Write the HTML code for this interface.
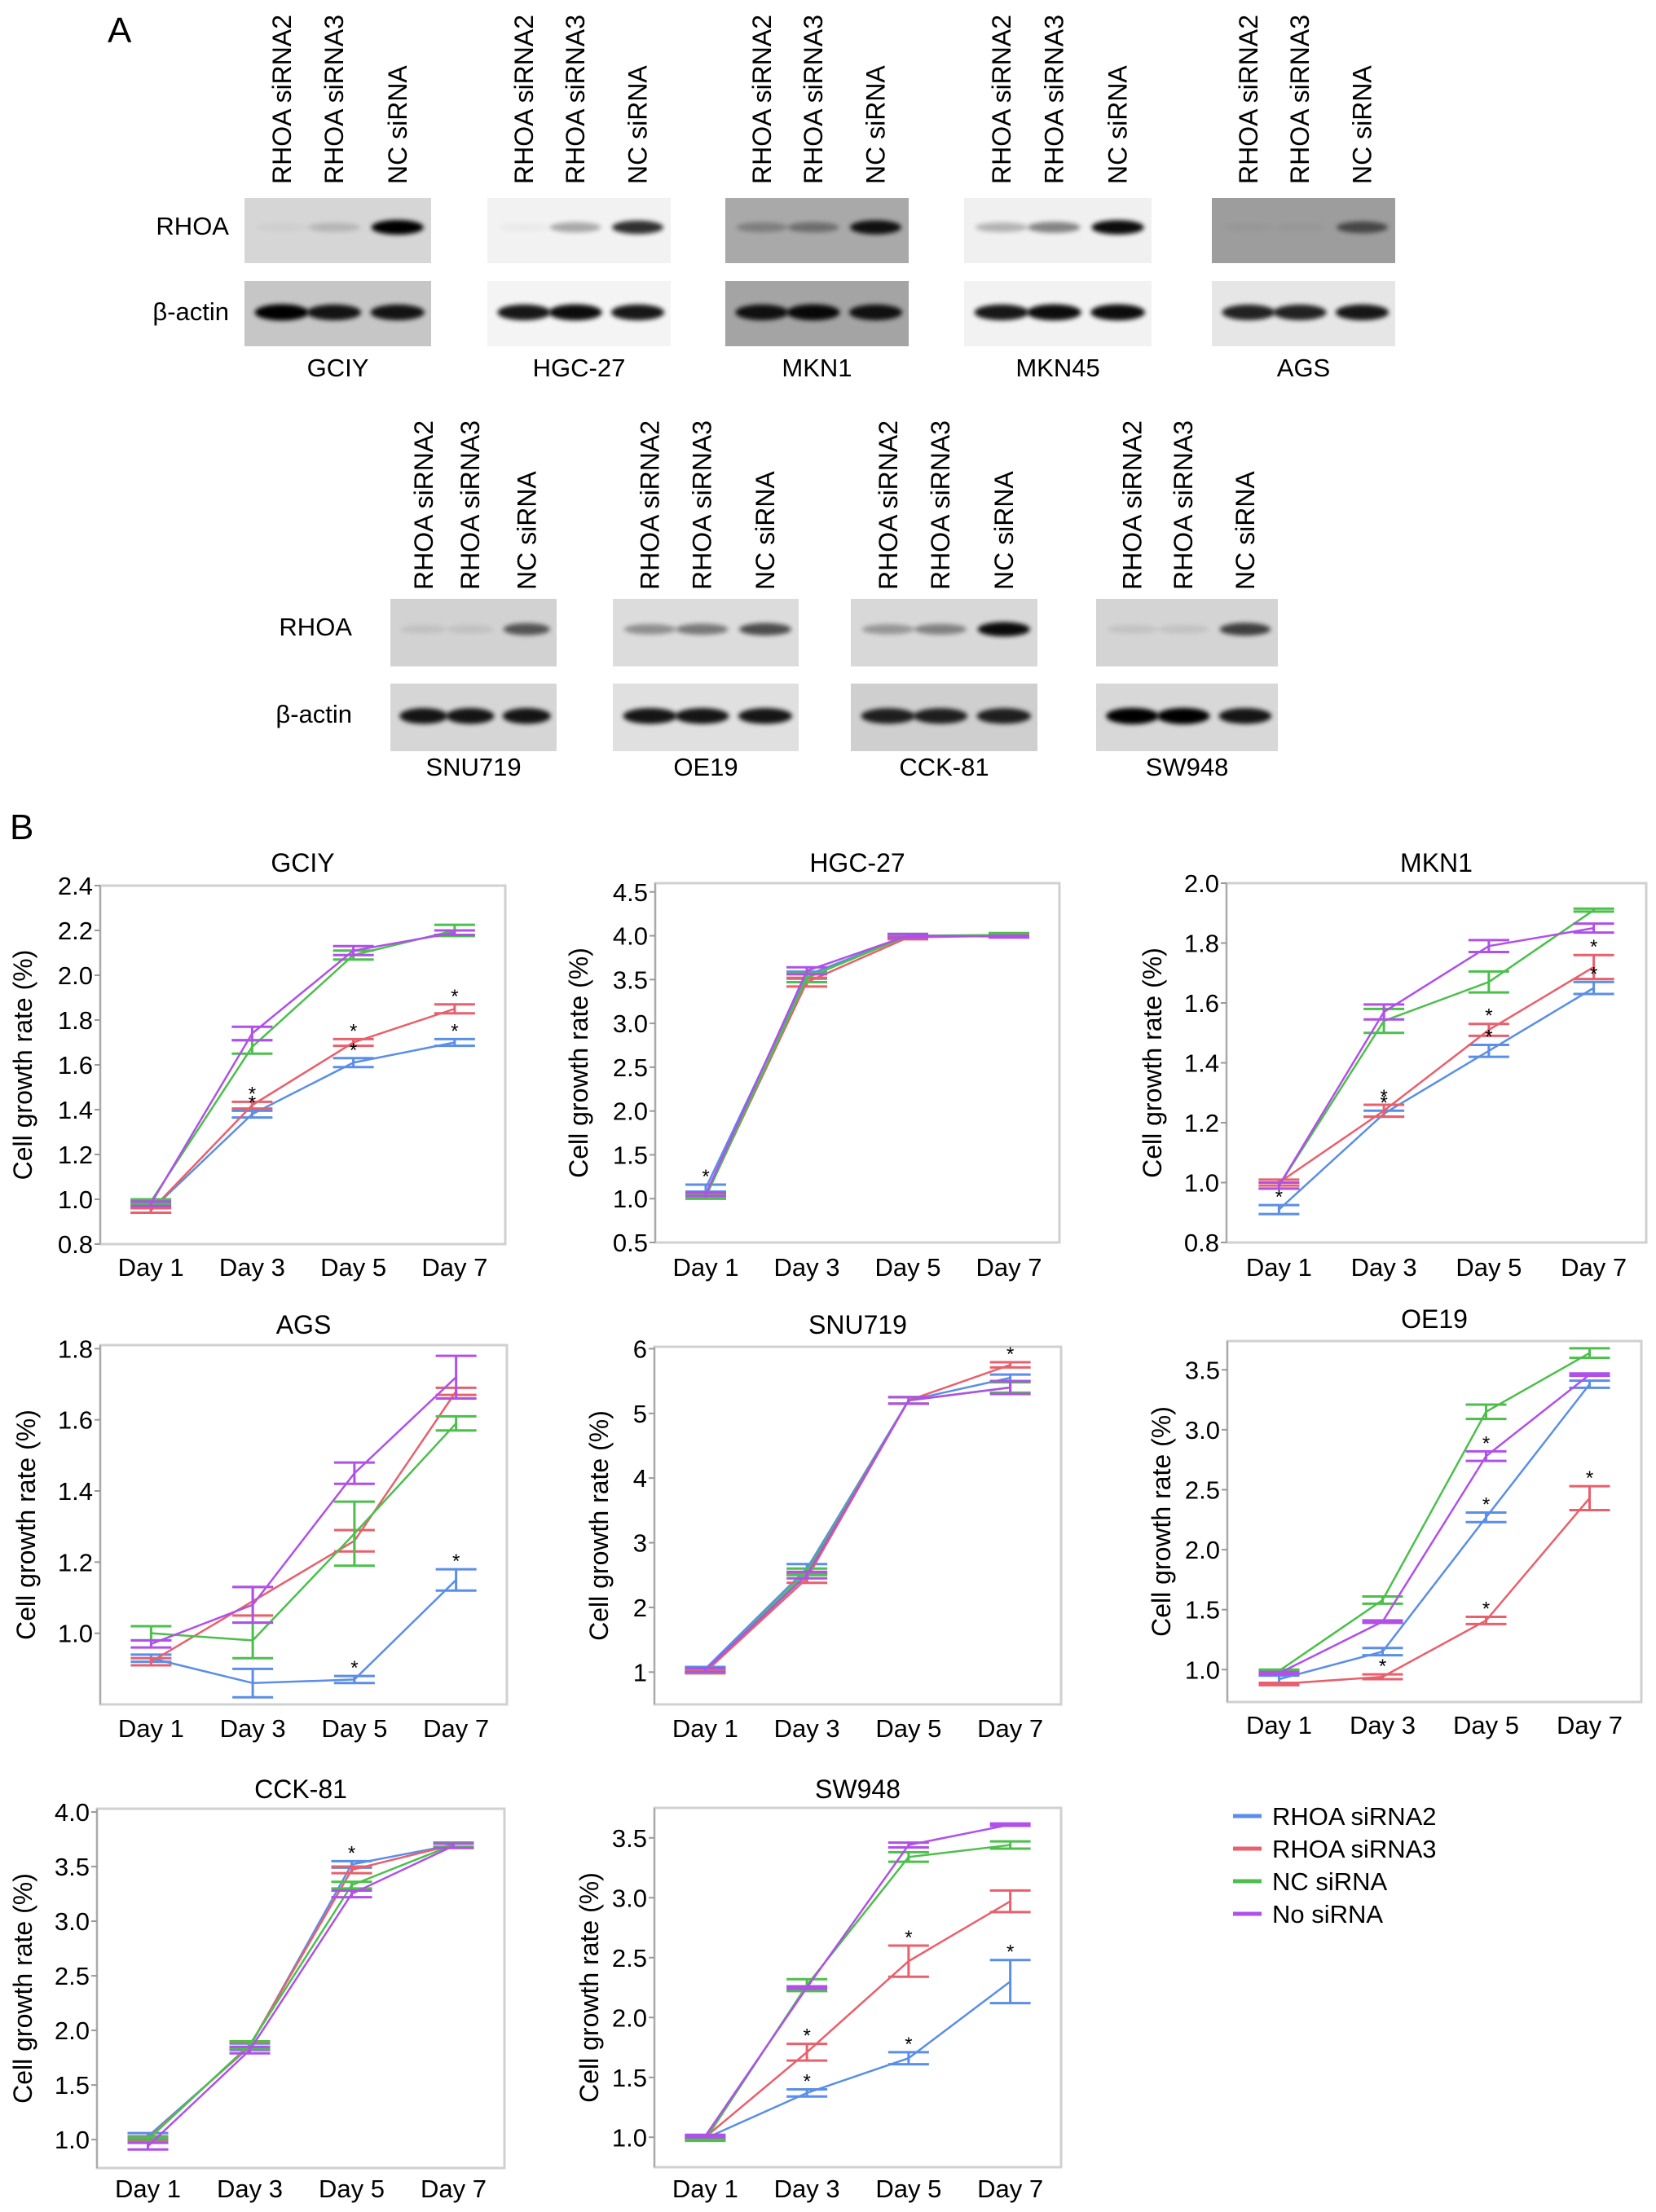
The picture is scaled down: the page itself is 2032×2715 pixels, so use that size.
<!DOCTYPE html>
<html><head><meta charset="utf-8">
<style>
html,body{margin:0;padding:0;background:#fff;}
svg{display:block;font-family:"Liberation Sans",Arial,sans-serif;}
</style></head>
<body>
<svg id="fig" width="2032" height="2715" viewBox="0 0 2032 2715" xmlns="http://www.w3.org/2000/svg">
<defs>
<filter id="blur" x="-50%" y="-100%" width="200%" height="300%"><feGaussianBlur stdDeviation="3"/></filter>
</defs>
<text x="132" y="52" font-size="44">A</text>
<text x="12" y="1030" font-size="44">B</text>
<g id="blots"></g>
<g id="charts"></g>
<g id="legend"></g>
</svg>
<script>
const NS="http://www.w3.org/2000/svg";
function mk(tag,attrs,parent){const e=document.createElementNS(NS,tag);for(const k in attrs)e.setAttribute(k,attrs[k]);if(parent)parent.appendChild(e);return e;}

// ---------- Blots ----------
const blotNames=["GCIY","HGC-27","MKN1","MKN45","AGS","SNU719","OE19","CCK-81","SW948"];
const blotX=[300,598,890,1183,1487,479,752,1044,1345];
const blotW=[229,225,225,230,225,204,228,229,223];
const blotRow=[0,0,0,0,0,1,1,1,1];
const rhoaBg=["#d6d6d6","#f2f2f2","#a9a9a9","#f0f0f0","#9d9d9d","#d2d2d2","#dcdcdc","#d8d8d8","#d4d4d4"];
const actinBg=["#c6c6c6","#f4f4f4","#a4a4a4","#f2f2f2","#e6e6e6","#d6d6d6","#e0e0e0","#cfcfcf","#d8d8d8"];
const rhoaBand=[[0.03,0.15,1],[0.03,0.3,0.8],[0.25,0.35,0.9],[0.25,0.45,0.95],[0.03,0.03,0.55],[0.08,0.08,0.6],[0.35,0.45,0.65],[0.3,0.4,0.95],[0.08,0.08,0.7]];
const actinBand=[[1,0.9,0.9],[0.9,0.95,0.9],[0.9,0.95,0.9],[0.9,0.95,0.95],[0.85,0.85,0.9],[0.9,0.9,0.9],[0.9,0.9,0.9],[0.85,0.85,0.85],[1,1,0.9]];
const laneLabels=["RHOA siRNA2","RHOA siRNA3","NC siRNA"];
const rowY=[{rT:243,aT:345,h:80,lab:462,vl:226},{rT:735,aT:839,h:83,lab:952,vl:724}];
const gB=document.getElementById('blots');
[[0,281],[1,432]].forEach(([r,x])=>{
  const t1=mk('text',{x:x,y:rowY[r].rT+45,'font-size':31,'text-anchor':'end'},gB);t1.textContent="RHOA";
  
  
  const t2=mk('text',{x:x,y:rowY[r].aT+48,'font-size':31,'text-anchor':'end'},gB);t2.textContent="β-actin";
  
  
});
blotNames.forEach((nm,i)=>{
  const R=rowY[blotRow[i]],x=blotX[i],w=blotW[i];
  const g=mk('g',{},gB);
  
  
  mk('rect',{x:x,y:R.rT,width:w,height:R.h,fill:rhoaBg[i]},g);
  mk('rect',{x:x,y:R.aT,width:w,height:R.h,fill:actinBg[i]},g);
  const lf=[0.2,0.48,0.82];
  lf.forEach((f,j)=>{
    const cx=x+w*f;
    const a=rhoaBand[i][j];
    if(a>0.02) mk('ellipse',{cx:cx,cy:R.rT+R.h*0.45,rx:w*0.14,ry:5+4*a,fill:'#000',opacity:a,filter:'url(#blur)'},g);
    const b=actinBand[i][j];
    mk('ellipse',{cx:cx,cy:R.aT+R.h*0.48,rx:w*0.145,ry:7+3*b,fill:'#000',opacity:b,filter:'url(#blur)'},g);
    const lt=mk('text',{x:0,y:0,'font-size':32,transform:`translate(${cx+11},${R.vl}) rotate(-90)`},g);
    lt.textContent=laneLabels[j];
    
    
  });
  const cl=mk('text',{x:x+w/2,y:R.lab,'font-size':31,'text-anchor':'middle'},g);
  cl.textContent=nm;
  
  
});

// ---------- Charts data ----------
const days=["Day 1","Day 3","Day 5","Day 7"];
const seriesNames=["RHOA siRNA2","RHOA siRNA3","NC siRNA","No siRNA"];
const seriesColors=["#5a8ee8","#e8606c","#4cbf4c","#b050e8"];
const chartTitles=["GCIY","HGC-27","MKN1","AGS","SNU719","OE19","CCK-81","SW948"];
const yDomains=[[0.8,2.4],[0.5,4.6],[0.8,2.0],[0.8,1.81],[0.5,6.03],[0.73,3.74],[0.74,4.03],[0.75,3.75]];
const yTicks=[
 ["0.8","1.0","1.2","1.4","1.6","1.8","2.0","2.2","2.4"],
 ["0.5","1.0","1.5","2.0","2.5","3.0","3.5","4.0","4.5"],
 ["0.8","1.0","1.2","1.4","1.6","1.8","2.0"],
 ["1.0","1.2","1.4","1.6","1.8"],
 ["1","2","3","4","5","6"],
 ["1.0","1.5","2.0","2.5","3.0","3.5"],
 ["1.0","1.5","2.0","2.5","3.0","3.5","4.0"],
 ["1.0","1.5","2.0","2.5","3.0","3.5"]];
const means=[
 [[0.95,1.38,1.61,1.70],[0.95,1.42,1.70,1.85],[0.99,1.68,2.09,2.20],[0.98,1.74,2.11,2.19]],
 [[1.12,3.55,4.00,4.00],[1.03,3.47,3.98,4.00],[1.02,3.52,4.00,4.01],[1.05,3.60,4.00,3.99]],
 [[0.91,1.23,1.44,1.65],[1.00,1.24,1.51,1.72],[0.99,1.54,1.67,1.91],[0.99,1.57,1.79,1.85]],
 [[0.93,0.86,0.87,1.15],[0.92,1.09,1.26,1.68],[1.00,0.98,1.28,1.59],[0.97,1.08,1.45,1.72]],
 [[1.05,2.60,5.20,5.55],[1.00,2.45,5.20,5.75],[1.02,2.55,5.20,5.40],[1.03,2.50,5.20,5.40]],
 [[0.92,1.15,2.27,3.38],[0.88,0.94,1.41,2.43],[0.99,1.58,3.15,3.64],[0.97,1.40,2.78,3.46]],
 [[1.03,1.85,3.52,3.70],[1.01,1.86,3.47,3.70],[1.00,1.87,3.33,3.70],[0.94,1.82,3.25,3.69]],
 [[0.99,1.37,1.66,2.30],[1.00,1.71,2.47,2.97],[0.98,2.27,3.34,3.44],[1.01,2.25,3.44,3.61]]];
const errs=[
 [[0.01,0.015,0.02,0.015],[0.01,0.015,0.015,0.02],[0.01,0.03,0.02,0.025],[0.01,0.03,0.02,0.01]],
 [[0.04,0.04,0.02,0.01],[0.03,0.05,0.02,0.01],[0.02,0.05,0.02,0.02],[0.02,0.04,0.02,0.01]],
 [[0.015,0.01,0.02,0.02],[0.01,0.02,0.02,0.04],[0.01,0.04,0.035,0.005],[0.01,0.025,0.02,0.015]],
 [[0.01,0.04,0.01,0.03],[0.01,0.04,0.03,0.01],[0.02,0.05,0.09,0.02],[0.01,0.05,0.03,0.06]],
 [[0.03,0.07,0.05,0.05],[0.02,0.07,0.05,0.04],[0.03,0.05,0.05,0.08],[0.03,0.05,0.05,0.10]],
 [[0.03,0.03,0.04,0.03],[0.01,0.02,0.03,0.10],[0.01,0.03,0.06,0.04],[0.01,0.01,0.04,0.01]],
 [[0.03,0.03,0.03,0.02],[0.02,0.03,0.03,0.02],[0.02,0.03,0.03,0.02],[0.03,0.03,0.03,0.02]],
 [[0.01,0.03,0.05,0.18],[0.01,0.07,0.13,0.09],[0.01,0.05,0.04,0.03],[0.01,0.01,0.02,0.01]]];
const stars=[[0,0,1],[0,0,2],[0,0,3],[0,1,1],[0,1,2],[0,1,3],[1,0,0],
 [2,0,0],[2,0,1],[2,0,2],[2,0,3],[2,1,1],[2,1,2],[2,1,3],
 [3,0,2],[3,0,3],[4,1,3],[5,1,1],[5,1,2],[5,1,3],[5,0,2],[5,3,2],
 [6,0,2],[7,0,1],[7,0,2],[7,0,3],[7,1,1],[7,1,2]];

const boxes=[
 {x:123,y:1087,w:497,h:440,ty:1070,dy:1566,lx:28},
 {x:804,y:1084,w:496,h:441,ty:1070,dy:1566,lx:710},
 {x:1505,y:1084,w:515,h:441,ty:1070,dy:1566,lx:1414},
 {x:123,y:1651,w:499,h:441,ty:1637,dy:2132,lx:32},
 {x:803,y:1653,w:499,h:439,ty:1637,dy:2132,lx:735},
 {x:1506,y:1646,w:508,h:443,ty:1630,dy:2128,lx:1425},
 {x:119,y:2220,w:500,h:441,ty:2207,dy:2697,lx:28},
 {x:803,y:2219,w:499,h:441,ty:2207,dy:2697,lx:723}];

const gC=document.getElementById('charts');
chartTitles.forEach((title,ci)=>{
  const b=boxes[ci],[d0,d1]=yDomains[ci];
  const ys=v=>b.y+b.h-(v-d0)/(d1-d0)*b.h;
  const xs=i=>b.x+b.w*(0.125+0.25*i);
  const g=mk('g',{},gC);
  
  
  const fr=mk('rect',{x:b.x,y:b.y,width:b.w,height:b.h,fill:'none',stroke:'#d0d0d0','stroke-width':3},g);
  
  
  mk('line',{x1:b.x,y1:b.y,x2:b.x,y2:b.y+b.h,stroke:'#aaa','stroke-width':2},g);
  const tt=mk('text',{x:b.x+b.w/2,y:b.ty,'font-size':32,'text-anchor':'middle'},g);
  tt.textContent=title;
  
  
  yTicks[ci].forEach(t=>{
    const y=ys(parseFloat(t));
    mk('line',{x1:b.x-7,y1:y,x2:b.x,y2:y,stroke:'#999','stroke-width':2},g);
    const tl=mk('text',{x:b.x-9,y:y+11,'font-size':31,'text-anchor':'end'},g);
    tl.textContent=t;
    
    
  });
  days.forEach((d,i)=>{
    const dl=mk('text',{x:xs(i),y:b.dy,'font-size':31,'text-anchor':'middle'},g);
    dl.textContent=d;
    
    
  });
  const yl=mk('text',{x:0,y:0,'font-size':32,'text-anchor':'middle',transform:`translate(${b.lx+11},${b.y+b.h/2}) rotate(-90)`},g);
  yl.textContent="Cell growth rate (%)";
  
  
  means[ci].forEach((ser,si)=>{
    const col=seriesColors[si];
    const sg=mk('g',{},g);
    
    
    const pl=mk('polyline',{points:ser.map((v,i)=>xs(i)+','+ys(v)).join(' '),fill:'none',stroke:col,'stroke-width':2.5},sg);
    
    
    ser.forEach((v,i)=>{
      const e=errs[ci][si][i],x=xs(i);
      const hi=ys(v+e),lo=ys(v-e);
      const eb=mk('path',{d:`M${x},${hi}V${lo}M${x-25},${hi}H${x+25}M${x-25},${lo}H${x+25}`,stroke:col,'stroke-width':3,fill:'none'},sg);
      
      
    });
  });
  stars.filter(s=>s[0]===ci).forEach(s=>{
    const v=means[ci][s[1]][s[2]],e=errs[ci][s[1]][s[2]];
    const st=mk('text',{x:xs(s[2]),y:ys(v+e)-2,'font-size':24,'text-anchor':'middle'},g);
    st.textContent="*";
    
    
  });
});

const gL=document.getElementById('legend');
seriesNames.forEach((n,i)=>{
  const y=2229+i*40;
  const e=mk('g',{},gL);
  
  
  mk('line',{x1:1513,y1:y,x2:1548,y2:y,stroke:seriesColors[i],'stroke-width':5},e);
  const t=mk('text',{x:1561,y:y+11,'font-size':31},e);
  t.textContent=n;
});
</script>
</body></html>
